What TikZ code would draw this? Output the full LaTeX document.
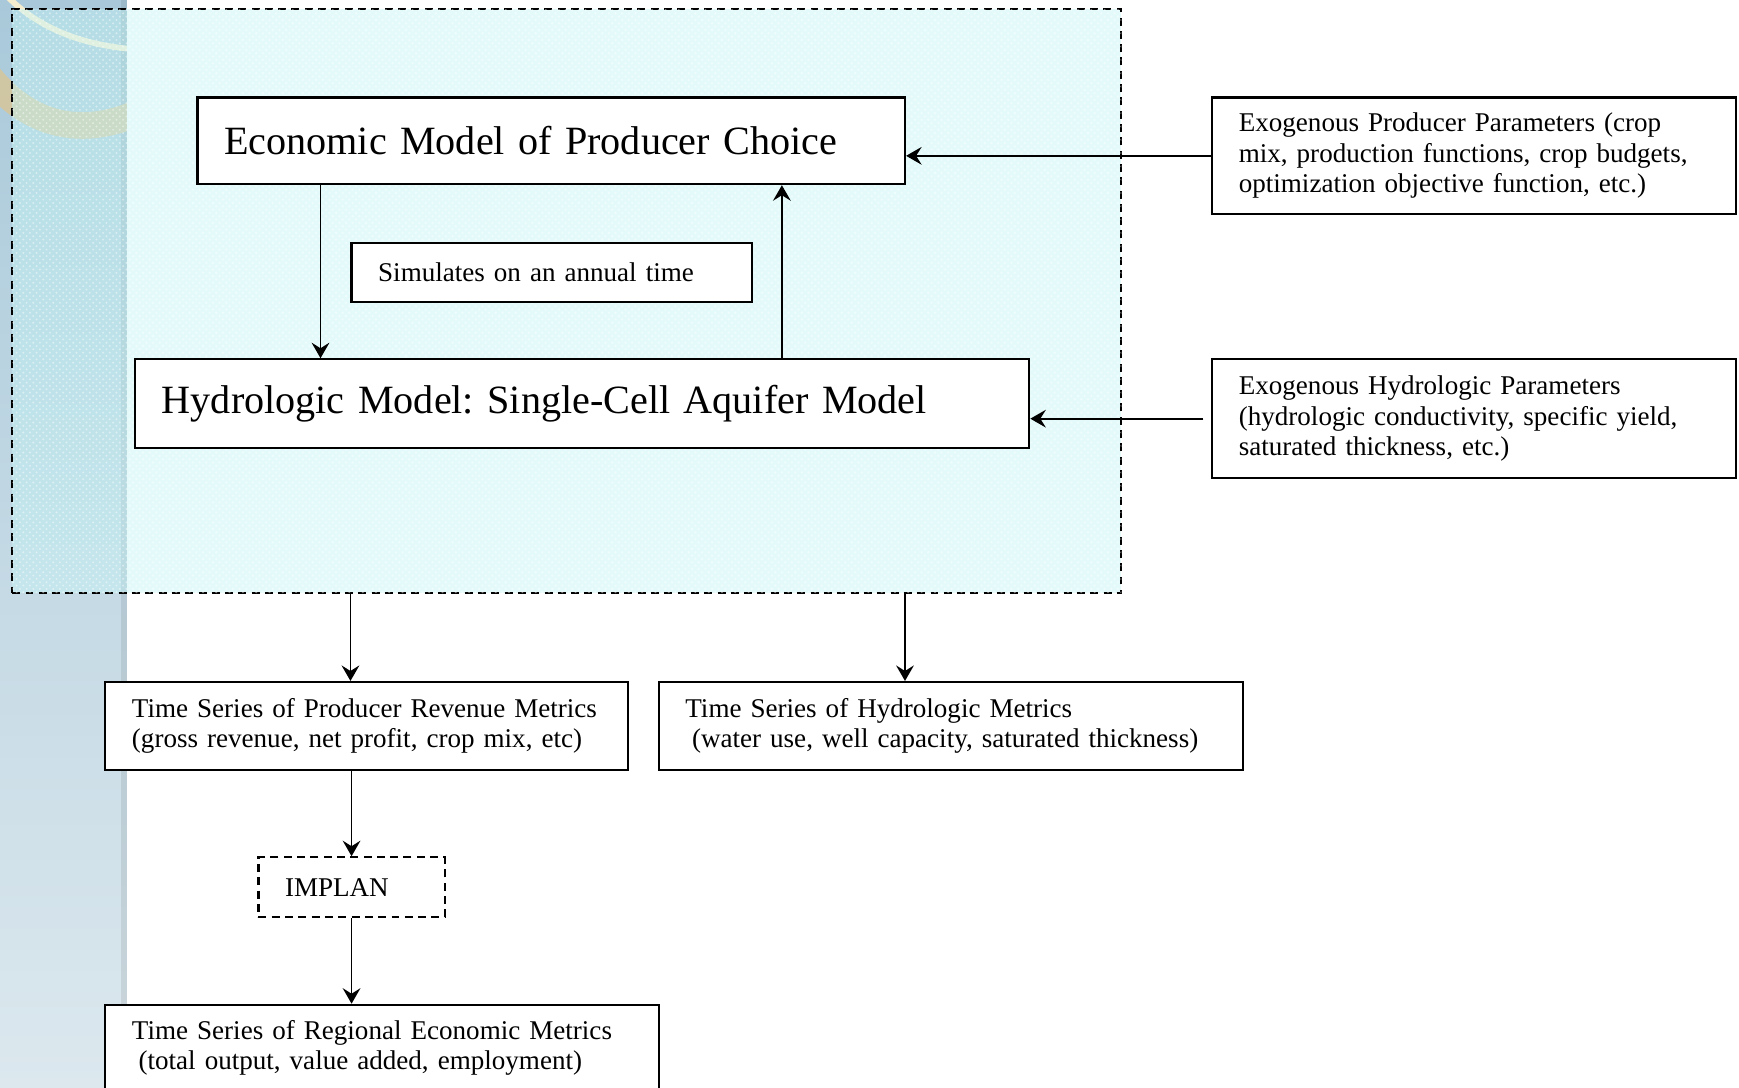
\documentclass[tikz,border=0pt]{standalone}
\usepackage{fontspec}
\setmainfont{Liberation Serif}
\usetikzlibrary{arrows.meta,patterns}
\definecolor{striptop}{HTML}{A9C9DA}
\definecolor{stripbot}{HTML}{DCE8EE}
\definecolor{hcream}{HTML}{F6EDCF}
\definecolor{htan}{HTML}{D6C69A}
\definecolor{hcyan}{HTML}{C4F5F5}
\newcommand{\bigtxt}{\fontsize{18.1}{22}\selectfont\frenchspacing\spaceskip=0.2em plus 0.1em}
\newcommand{\smalltxt}{\fontsize{12.2}{13.8}\selectfont\frenchspacing\spaceskip=0.2em plus 0.1em\hyphenpenalty=10000}

\begin{document}
\begin{tikzpicture}[x=0.5pt,y=-0.5pt,
    box/.style={draw, line width=1pt, fill=white, anchor=north west, align=left,
      inner xsep=12pt, inner ysep=0pt, font=\smalltxt},
    frame/.style={draw, dash pattern=on 3.6pt off 2.4pt, line width=1pt,
      anchor=north west, inner sep=0pt, fill=hcyan, fill opacity=0.45,
      postaction={pattern=crosshatch dots, pattern color=white}},
    arr/.style={-{Stealth[length=7pt,width=8pt,inset=2.5pt]}, line width=0.8pt}]
  \useasboundingbox (0,0) rectangle (1568,981);
  % side band with the slide decoration
  \shade[top color=striptop, bottom color=stripbot] (0,0) rectangle (114.5,981);
  \fill[black, opacity=0.08] (109,0) rectangle (114.5,981);
  \begin{scope}
    \clip (0,0) rectangle (114.5,981);
    \draw[htan, line width=12pt, opacity=0.85] (-12,66) .. controls (25,114) and (75,126) .. (130,99);
    \draw[hcream, line width=2.6pt] (4,-6) .. controls (30,22) and (70,42) .. (130,45);
  \end{scope}
  % simulation loop
  \node[frame, minimum width=500pt, minimum height=263.5pt] (loop) at (10,7) {};
  \node[box, font=\bigtxt, text width=295pt, minimum height=39pt] (econ) at (177,87)
    {Economic Model of Producer Choice};
  \node[box, text width=156.5pt, minimum height=26.5pt] (annual) at (316,218)
    {Simulates on an annual time};
  \node[box, font=\bigtxt, text width=379pt, minimum height=40pt] (hydro) at (121,323)
    {Hydrologic Model: Single-Cell Aquifer Model};
  \node[box, text width=212pt, minimum height=52.5pt] (exprod) at (1092,87)
    {Exogenous Producer Parameters (crop\\mix, production functions, crop budgets,\\optimization objective function, etc.)};
  \node[box, text width=212pt, minimum height=53.5pt] (exhyd) at (1092,323)
    {Exogenous Hydrologic Parameters\\(hydrologic conductivity, specific yield,\\saturated thickness, etc.)};
  % outputs
  \node[box, text width=211.5pt, minimum height=39.5pt] (rev) at (94,614)
    {Time Series of Producer Revenue Metrics\\(gross revenue, net profit, crop mix, etc)};
  \node[box, text width=239.5pt, minimum height=39.5pt] (hmet) at (593,614)
    {Time Series of Hydrologic Metrics\\\hspace*{3pt}(water use, well capacity, saturated thickness)};
  \node[box, dash pattern=on 3.6pt off 2.4pt, text width=60pt, minimum height=27pt] (implan) at (232,772)
    {IMPLAN};
  \node[box, text width=225.5pt, minimum height=39pt] (reg) at (94,905)
    {Time Series of Regional Economic Metrics\\\hspace*{3pt}(total output, value added, employment)};
  % connectors
  \draw[arr] (econ.south -| 289,0) -- (hydro.north -| 289,0);
  \draw[arr] (hydro.north -| 705,0) -- (econ.south -| 705,0);
  \draw[arr] (exprod.west) -- (exprod.west -| econ.east);
  \draw[arr, shorten <=3.5pt] (exhyd.west) -- (exhyd.west -| hydro.east);
  \draw[arr] (loop.south -| 316,0) -- (rev.north -| 316,0);
  \draw[arr] (loop.south -| 816,0) -- (hmet.north -| 816,0);
  \draw[arr] (rev.south -| implan.north) -- (implan.north);
  \draw[arr] (implan.south) -- (implan.south |- reg.north);
\end{tikzpicture}
\end{document}
